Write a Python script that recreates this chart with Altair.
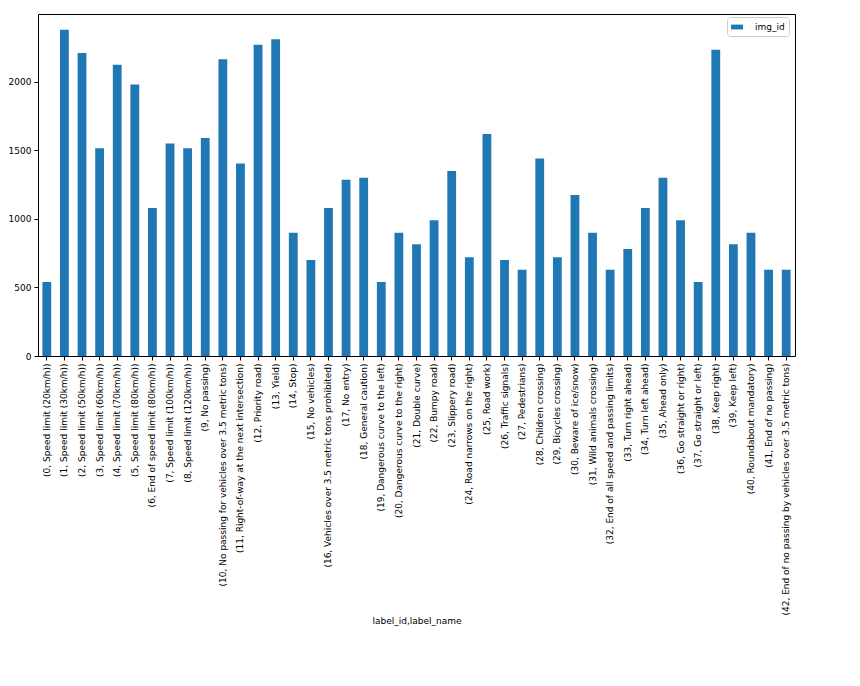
import altair as alt
import pandas as pd

label_ids = list(range(43))
label_names = [
    "Speed limit (20km/h)", "Speed limit (30km/h)", "Speed limit (50km/h)",
    "Speed limit (60km/h)", "Speed limit (70km/h)", "Speed limit (80km/h)",
    "End of speed limit (80km/h)", "Speed limit (100km/h)", "Speed limit (120km/h)",
    "No passing", "No passing for vehicles over 3.5 metric tons",
    "Right-of-way at the next intersection", "Priority road", "Yield", "Stop",
    "No vehicles", "Vehicles over 3.5 metric tons prohibited", "No entry",
    "General caution", "Dangerous curve to the left", "Dangerous curve to the right",
    "Double curve", "Bumpy road", "Slippery road", "Road narrows on the right",
    "Road work", "Traffic signals", "Pedestrians", "Children crossing",
    "Bicycles crossing", "Beware of ice/snow", "Wild animals crossing",
    "End of all speed and passing limits", "Turn right ahead", "Turn left ahead",
    "Ahead only", "Go straight or right", "Go straight or left", "Keep right",
    "Keep left", "Roundabout mandatory", "End of no passing",
    "End of no passing by vehicles over 3.5 metric tons",
]
img_counts = [
    540, 2380, 2210, 1515, 2125, 1980, 1080, 1550, 1515, 1590,
    2165, 1405, 2270, 2310, 900, 700, 1080, 1285, 1300, 540,
    900, 815, 990, 1350, 720, 1620, 700, 630, 1440, 720,
    1175, 900, 630, 780, 1080, 1300, 990, 540, 2235, 815,
    900, 630, 630,
]

labels = [f"({i}, {n})" for i, n in zip(label_ids, label_names)]
df = pd.DataFrame({"label": labels, "img_id": img_counts})

FONT = "DejaVu Sans"
FS = 9

chart = (
    alt.Chart(df)
    .transform_calculate(series="'img_id'")
    .mark_bar(color="#1f77b4")
    .encode(
        x=alt.X(
            "label:N",
            sort=labels,
            scale=alt.Scale(paddingInner=0.5, paddingOuter=0.25),
            axis=alt.Axis(
                title="label_id,label_name",
                labelAngle=270,
                labelFontSize=FS,
                labelColor="#000000",
                labelPadding=3,
                tickColor="#000000",
                tickSize=4,
                domain=False,
                titleFontSize=FS,
                titleFontWeight="normal",
                titleColor="#000000",
                titleBaseline="top",
                titleY=260,
                labelLimit=0,
            ),
        ),
        y=alt.Y(
            "img_id:Q",
            scale=alt.Scale(domain=[0, 2495], nice=False),
            axis=alt.Axis(
                title=None,
                values=[0, 500, 1000, 1500, 2000],
                format="d",
                grid=False,
                domain=False,
                labelFontSize=FS,
                labelColor="#000000",
                tickColor="#000000",
                tickSize=4,
                labelPadding=3,
            ),
        ),
        color=alt.Color(
            "series:N",
            scale=alt.Scale(domain=["img_id"], range=["#1f77b4"]),
            legend=alt.Legend(
                title=None,
                orient="none",
                legendX=689,
                legendY=3,
                symbolType="M-1,-0.4L1,-0.4L1,0.4L-1,0.4Z",
                symbolSize=144,
                symbolStrokeWidth=0,
                labelOffset=12,
                labelFontSize=FS,
                labelColor="#000000",
                labelFont=FONT,
                strokeColor="#cccccc",
                fillColor="#ffffff",
                cornerRadius=3,
                padding=4,
            ),
        ),
    )
    .properties(
        width=757,
        height=342,
        autosize=alt.AutoSizeParams(type="none"),
        padding={"left": 38, "top": 14, "right": 65, "bottom": 330},
    )
    .configure(font=FONT)
    .configure_view(stroke="#000000", strokeWidth=1)
    .configure_axis(labelFont=FONT, titleFont=FONT)
)

chart.save("out.html", embed_options={"renderer": "svg", "actions": False})
